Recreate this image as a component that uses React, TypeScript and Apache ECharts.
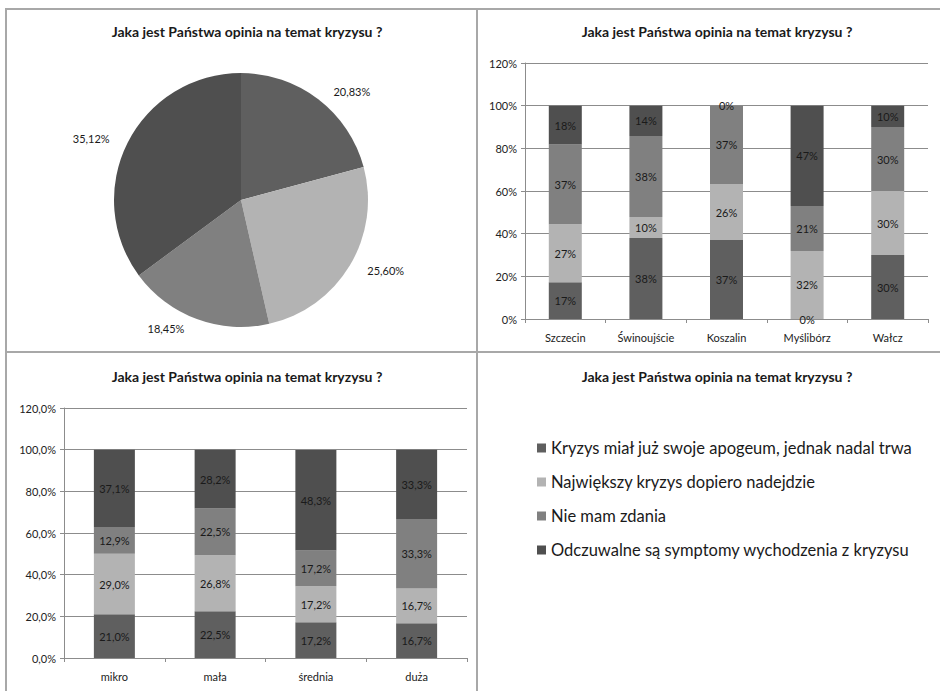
import React, { useEffect, useRef } from "react";
import * as echarts from "echarts";

const TITLE = "Jaka jest Państwa opinia na temat kryzysu ?";
const answers = [
  "Kryzys miał już swoje apogeum, jednak nadal trwa",
  "Największy kryzys dopiero nadejdzie",
  "Nie mam zdania",
  "Odczuwalne są symptomy wychodzenia z kryzysu",
];
const colors = ["#5f5f5f", "#b3b3b3", "#808080", "#4f4f4f"];

const pieValues = [20.83, 25.6, 18.45, 35.12];

const cities = ["Szczecin", "Świnoujście", "Koszalin", "Myślibórz", "Wałcz"];
const cityApogeum = [17.2, 38.0, 37.0, 0, 30.0];
const cityNajwiekszy = [27.2, 9.8, 26.3, 31.9, 30.0];
const cityNieMam = [37.4, 38.0, 36.7, 21.1, 30.0];
const cityOdczuwalne = [18.2, 14.2, 0, 47.0, 10.0];

const sizes = ["mikro", "mała", "średnia", "duża"];
const sizeApogeum = [21.0, 22.5, 17.2, 16.7];
const sizeNajwiekszy = [29.0, 26.8, 17.2, 16.7];
const sizeNieMam = [12.9, 22.5, 17.2, 33.3];
const sizeOdczuwalne = [37.1, 28.2, 48.3, 33.3];

const FONT = "Lato";

export default function App() {
  const ref = useRef<HTMLDivElement>(null);
  useEffect(() => {
    if (!ref.current) return;
    const chart = echarts.init(ref.current, undefined, { renderer: "svg" });
    const titleStyle = { fontFamily: FONT, fontSize: 14, fontWeight: "bold", color: "#1a1a1a" };
    const axisLabel = { fontFamily: FONT, fontSize: 11, color: "#222" };
    const gridLine = { lineStyle: { color: "#8c8c8c", width: 1 } };
    const cityData = [cityApogeum, cityNajwiekszy, cityNieMam, cityOdczuwalne];
    const sizeData = [sizeApogeum, sizeNajwiekszy, sizeNieMam, sizeOdczuwalne];
    const barLabel = { show: true, position: "inside", fontFamily: FONT, fontSize: 11, color: "#1a1a1a" };

    const option: any = {
      animation: false,
      backgroundColor: "#ffffff",
      title: [
        { text: TITLE, left: 242, top: 19, textAlign: "center", textStyle: titleStyle },
        { text: TITLE, left: 712, top: 19, textAlign: "center", textStyle: titleStyle },
        { text: TITLE, left: 242, top: 364, textAlign: "center", textStyle: titleStyle },
        { text: TITLE, left: 712, top: 364, textAlign: "center", textStyle: titleStyle },
      ],
      legend: {
        data: answers,
        orient: "vertical",
        left: 532,
        top: 433,
        itemWidth: 9,
        itemHeight: 9,
        itemGap: 14,
        icon: "rect",
        selectedMode: false,
        textStyle: { fontFamily: FONT, fontSize: 16.5, color: "#1a1a1a", lineHeight: 20 },
      },
      grid: [
        { left: 525, top: 63, width: 403, height: 256 },
        { left: 64, top: 408, width: 403, height: 250 },
      ],
      xAxis: [
        {
          type: "category", gridIndex: 0, data: cities,
          axisLine: { lineStyle: { color: "#8c8c8c" } },
          axisTick: { show: true, length: 4, lineStyle: { color: "#8c8c8c" } },
          axisLabel: { ...axisLabel, margin: 13 },
        },
        {
          type: "category", gridIndex: 1, data: sizes,
          axisLine: { lineStyle: { color: "#8c8c8c" } },
          axisTick: { show: true, length: 4, lineStyle: { color: "#8c8c8c" } },
          axisLabel: { ...axisLabel, margin: 13 },
        },
      ],
      yAxis: [
        {
          type: "value", gridIndex: 0, min: 0, max: 120, interval: 20,
          axisLine: { show: true, lineStyle: { color: "#8c8c8c" } },
          axisTick: { show: true, length: 4, lineStyle: { color: "#8c8c8c" } },
          splitLine: gridLine,
          axisLabel: { ...axisLabel, margin: 8, formatter: (v: number) => v + "%" },
        },
        {
          type: "value", gridIndex: 1, min: 0, max: 120, interval: 20,
          axisLine: { show: true, lineStyle: { color: "#8c8c8c" } },
          axisTick: { show: true, length: 4, lineStyle: { color: "#8c8c8c" } },
          splitLine: gridLine,
          axisLabel: { ...axisLabel, margin: 8, formatter: (v: number) => v.toFixed(1).replace(".", ",") + "%" },
        },
      ],
      series: [
        {
          type: "pie",
          center: [241, 200],
          radius: 127,
          startAngle: 90,
          clockwise: true,
          label: {
            show: true, position: "outside", fontFamily: FONT, fontSize: 11, color: "#1a1a1a",
            formatter: (p: any) => p.value.toFixed(2).replace(".", ",") + "%",
          },
          labelLine: { show: false, length: 10, length2: 4 },
          itemStyle: { borderColor: "#ffffff", borderWidth: 0 },
          emphasis: { disabled: true },
          data: answers.map((n, i) => ({ name: n, value: pieValues[i], itemStyle: { color: colors[i] } })),
        },
        ...answers.map((n, i) => ({
          type: "bar", name: n, stack: "cities", xAxisIndex: 0, yAxisIndex: 0,
          barWidth: 33, itemStyle: { color: colors[i] },
          label: { ...barLabel, formatter: (p: any) => Math.round(p.value) + "%" },
          data: cityData[i],
        })),
        ...answers.map((n, i) => ({
          type: "bar", name: n, stack: "sizes", xAxisIndex: 1, yAxisIndex: 1,
          barWidth: 41, itemStyle: { color: colors[i] },
          label: { ...barLabel, formatter: (p: any) => p.value.toFixed(1).replace(".", ",") + "%" },
          data: sizeData[i],
        })),
      ],
      graphic: [
        { type: "line", shape: { x1: 6, y1: 9, x2: 940, y2: 9 }, style: { stroke: "#a8a8a8", lineWidth: 2 } },
        { type: "line", shape: { x1: 6, y1: 8, x2: 6, y2: 691 }, style: { stroke: "#a8a8a8", lineWidth: 2 } },
        { type: "line", shape: { x1: 477, y1: 8, x2: 477, y2: 691 }, style: { stroke: "#a8a8a8", lineWidth: 2 } },
        { type: "line", shape: { x1: 6, y1: 352, x2: 940, y2: 352 }, style: { stroke: "#a8a8a8", lineWidth: 2 } },
      ],
    };
    chart.setOption(option);
    return () => chart.dispose();
  }, []);
  return (
    <div
      ref={ref}
      style={{ position: "absolute", left: 0, top: 0, width: 940, height: 691, background: "#fff" }}
    />
  );
}
